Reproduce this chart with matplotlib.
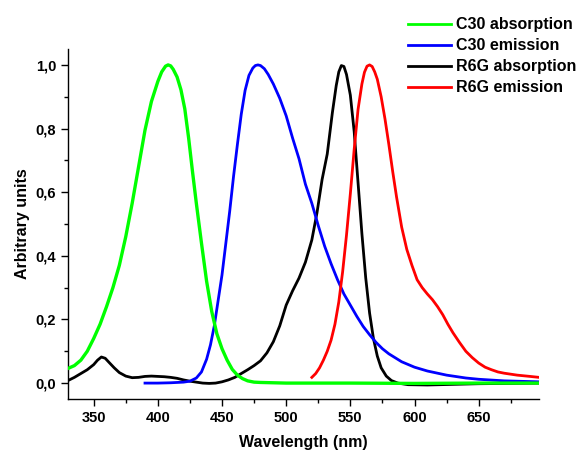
import matplotlib
matplotlib.use('Agg')
import matplotlib.pyplot as plt
from matplotlib.ticker import MultipleLocator, FuncFormatter

plt.rcParams['font.family'] = ['Liberation Sans', 'DejaVu Sans']
plt.rcParams['font.weight'] = 'bold'

# C30 absorption (green)
c30_abs_x = [330, 335, 340, 345, 350, 355, 360, 365, 370, 375, 380, 385, 390, 395,
             400, 403, 406, 408, 410, 412, 415, 418, 421, 424, 427, 430, 434, 438,
             442, 446, 450, 454, 458, 462, 466, 470, 475, 480, 500, 550, 600, 650, 697]
c30_abs_y = [0.046, 0.055, 0.072, 0.10, 0.14, 0.185, 0.24, 0.30, 0.37, 0.46, 0.565,
             0.68, 0.795, 0.885, 0.948, 0.978, 0.996, 1.0, 0.997, 0.986, 0.962, 0.922,
             0.862, 0.77, 0.665, 0.565, 0.44, 0.32, 0.225, 0.155, 0.108, 0.072, 0.043,
             0.025, 0.014, 0.007, 0.003, 0.002, 0.0, 0.0, -0.001, 0.0, 0.0]

# C30 emission (blue)
c30_em_x = [390, 400, 410, 420, 425, 430, 434, 438, 441, 444, 447, 450, 453, 456,
            459, 462, 465, 468, 471, 474, 476, 478, 480, 483, 486, 490, 495, 500, 505,
            510, 515, 520, 525, 530, 535, 540, 545, 550, 555, 560, 565, 570, 575, 580,
            590, 600, 610, 625, 640, 650, 670, 697]
c30_em_y = [0.0, 0.0, 0.001, 0.003, 0.006, 0.016, 0.035, 0.075, 0.12, 0.18, 0.26,
            0.34, 0.44, 0.54, 0.65, 0.75, 0.845, 0.92, 0.967, 0.99, 0.998, 1.0, 0.998,
            0.988, 0.97, 0.94, 0.895, 0.84, 0.77, 0.705, 0.625, 0.565, 0.495, 0.43,
            0.375, 0.325, 0.28, 0.245, 0.21, 0.178, 0.152, 0.128, 0.108, 0.092, 0.067,
            0.05, 0.038, 0.025, 0.016, 0.012, 0.007, 0.004]

# R6G absorption (black)
r6g_abs_x = [330, 335, 340, 345, 350, 353, 356, 359, 362, 366, 370, 375, 380, 385,
             390, 395, 400, 405, 410, 415, 420, 425, 430, 435, 440, 445, 450, 455,
             460, 465, 470, 475, 480, 485, 490, 495, 500, 505, 510, 515, 520, 524,
             528, 532, 536, 539, 541, 543, 545, 547, 550, 553, 556, 559, 562, 565,
             568, 571, 574, 578, 582, 587, 595, 610, 630, 650, 697]
r6g_abs_y = [0.008, 0.018, 0.03, 0.042, 0.058, 0.072, 0.082, 0.078, 0.065, 0.048,
             0.033, 0.022, 0.017, 0.018, 0.021, 0.022, 0.021, 0.02, 0.018, 0.015,
             0.01, 0.006, 0.003, 0.0, -0.001, 0.0, 0.004, 0.01, 0.018, 0.03, 0.042,
             0.055, 0.07, 0.095, 0.13, 0.18, 0.245, 0.29, 0.33, 0.38, 0.45, 0.535,
             0.64, 0.72, 0.85, 0.935, 0.978, 0.998, 0.995, 0.97, 0.905, 0.79, 0.63,
             0.47, 0.33, 0.22, 0.14, 0.085, 0.048, 0.022, 0.008, 0.0, -0.005, -0.006,
             -0.004, -0.002, 0.0]

# R6G emission (red)
r6g_em_x = [520, 523, 526, 529, 532, 535, 538, 541, 544, 547, 550, 553, 556, 559,
            561, 563, 565, 567, 569, 571, 574, 577, 580, 583, 586, 590, 594, 598, 602,
            606, 610, 614, 618, 622, 626, 630, 635, 640, 645, 650, 655, 660, 665, 670,
            680, 690, 697]
r6g_em_y = [0.018, 0.03, 0.048, 0.072, 0.1, 0.135, 0.185, 0.255, 0.35, 0.465, 0.595,
            0.735, 0.86, 0.94, 0.977, 0.996, 1.0, 0.995, 0.978, 0.955, 0.9, 0.83, 0.75,
            0.665, 0.585, 0.49, 0.42, 0.37, 0.325, 0.3, 0.28, 0.262, 0.24, 0.215,
            0.185, 0.158, 0.128, 0.1, 0.08, 0.063, 0.05, 0.042, 0.035, 0.031, 0.025,
            0.021, 0.018]

fig = plt.figure(figsize=(5.81, 4.51), dpi=100)
ax = fig.add_axes([68 / 581, 52 / 451, (539 - 68) / 581, (399 - 49) / 451])

ax.plot(r6g_abs_x, r6g_abs_y, color='black', lw=2.0, zorder=2, label='R6G absorption')
ax.plot(c30_em_x, c30_em_y, color='#0000ff', lw=2.0, zorder=3, label='C30 emission')
ax.plot(r6g_em_x, r6g_em_y, color='#ff0000', lw=2.0, zorder=3, label='R6G emission')
ax.plot(c30_abs_x, c30_abs_y, color='#00ff00', lw=2.4, zorder=4, label='C30 absorption')

ax.set_xlim(330, 697)
ax.set_ylim(-0.05, 1.05)

for s in ['top', 'right']:
    ax.spines[s].set_visible(False)
ax.spines['left'].set_linewidth(1.0)
ax.spines['bottom'].set_linewidth(1.0)

ax.xaxis.set_major_locator(MultipleLocator(50))
ax.xaxis.set_minor_locator(MultipleLocator(25))
ax.yaxis.set_major_locator(MultipleLocator(0.2))
ax.yaxis.set_minor_locator(MultipleLocator(0.1))
ax.yaxis.set_major_formatter(FuncFormatter(lambda v, p: ('%.1f' % v).replace('.', ',')))
ax.tick_params(which='major', direction='out', length=5, width=1, labelsize=10.5)
ax.tick_params(which='minor', direction='out', length=3, width=1)
for lab in ax.get_xticklabels() + ax.get_yticklabels():
    lab.set_fontweight('bold')

ax.set_xlabel('Wavelength (nm)', fontsize=11.5, fontweight='bold', labelpad=7)
ax.set_ylabel('Arbitrary units', fontsize=11.5, fontweight='bold', labelpad=4)

h, l = ax.get_legend_handles_labels()
order = [3, 1, 0, 2]
leg = fig.legend([h[i] for i in order], [l[i] for i in order], loc='upper left',
                 bbox_to_anchor=(408 / 581, 1 - 17.5 / 451), frameon=False,
                 prop={'weight': 'bold', 'size': 11.5}, borderpad=0, borderaxespad=0,
                 handlelength=2.7, handletextpad=0.3, labelspacing=0.37)
for line in leg.get_lines():
    line.set_linewidth(2.0)

fig.savefig('out.png', dpi=100)
